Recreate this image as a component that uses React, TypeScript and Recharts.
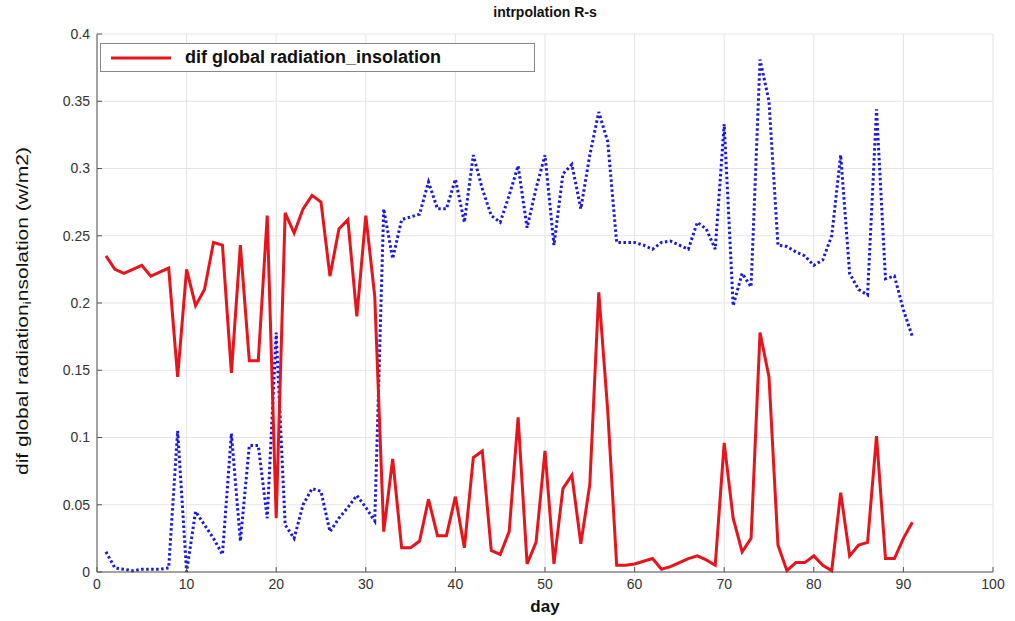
import { LineChart, Line, XAxis, YAxis, CartesianGrid } from "recharts";

// values, day 1 .. 91
const redValues = [
  0.235, 0.225, 0.222, 0.225, 0.228, 0.22, 0.223, 0.226, 0.145, 0.225,
  0.198, 0.21, 0.245, 0.243, 0.148, 0.243, 0.157, 0.157, 0.265, 0.04,
  0.267, 0.252, 0.27, 0.28, 0.275, 0.22, 0.255, 0.262, 0.19, 0.265,
  0.205, 0.03, 0.084, 0.018, 0.018, 0.023, 0.054, 0.027, 0.027, 0.056,
  0.018, 0.085, 0.09, 0.016, 0.013, 0.03, 0.115, 0.006, 0.022, 0.09,
  0.006, 0.062, 0.072, 0.021, 0.065, 0.208, 0.12, 0.005, 0.005, 0.006,
  0.008, 0.01, 0.002, 0.004, 0.007, 0.01, 0.012, 0.009, 0.005, 0.096,
  0.04, 0.015, 0.025, 0.178, 0.145, 0.02, 0.001, 0.007, 0.007, 0.012,
  0.005, 0.001, 0.059, 0.012, 0.02, 0.022, 0.101, 0.01, 0.01, 0.025,
  0.037,
];

const blueValues = [
  0.015, 0.003, 0.002, 0.001, 0.002, 0.002, 0.002, 0.003, 0.105, 0.0,
  0.045, 0.035, 0.025, 0.013, 0.103, 0.023, 0.094, 0.094, 0.04, 0.178,
  0.035, 0.025, 0.05, 0.062, 0.06, 0.03, 0.04, 0.048, 0.057, 0.048,
  0.038, 0.27, 0.233, 0.262, 0.264, 0.266, 0.29, 0.27, 0.27, 0.292,
  0.26, 0.31, 0.285, 0.265, 0.26, 0.28, 0.302, 0.256, 0.285, 0.31,
  0.243, 0.296, 0.303, 0.27, 0.31, 0.342, 0.32, 0.245, 0.245, 0.245,
  0.243, 0.24, 0.245, 0.246, 0.243, 0.24, 0.26, 0.255, 0.24, 0.333,
  0.198, 0.222, 0.212, 0.381, 0.35, 0.243, 0.242, 0.238, 0.235, 0.228,
  0.232, 0.25, 0.31, 0.222, 0.21, 0.206, 0.344, 0.218, 0.22, 0.195,
  0.175,
];

const xTicks = [0, 10, 20, 30, 40, 50, 60, 70, 80, 90, 100];
const yTicks = [0, 0.05, 0.1, 0.15, 0.2, 0.25, 0.3, 0.35, 0.4];

const data = redValues.map((v, i) => ({ day: i + 1, red: v, blue: blueValues[i] }));

const font = "Arial, 'Liberation Sans', Helvetica, sans-serif";

function YLabel() {
  const cx = 22;
  const cy = 311;
  return (
    <text
      x={cx}
      y={cy}
      transform={`rotate(-90 ${cx} ${cy})`}
      textAnchor="middle"
      dominantBaseline="central"
      fontFamily={font}
      fontSize={16}
      fill="#111"
      textLength={328}
      lengthAdjust="spacingAndGlyphs"
    >
      dif global radiation
      <tspan fontSize={11} dy={5}>i</tspan>
      <tspan dy={-5}>nsolation (w/m2)</tspan>
    </text>
  );
}

export default function App() {
  return (
    <div style={{ position: "absolute", left: 0, top: 0, width: 1015, height: 621, background: "#fff" }}>
      <LineChart width={1015} height={621} data={data} margin={{ top: 34, right: 22, left: 0, bottom: 0 }}>
        <CartesianGrid stroke="#e4e4e4" strokeWidth={1} />
        <XAxis
          dataKey="day"
          type="number"
          domain={[0, 100]}
          ticks={xTicks}
          height={49}
          stroke="#555"
          tickSize={-5}
          tickMargin={12}
          tick={{ fontFamily: font, fontSize: 14, fill: "#333" }}
        />
        <XAxis
          xAxisId="top"
          orientation="top"
          type="number"
          domain={[0, 100]}
          ticks={xTicks}
          height={0}
          stroke="#555"
          tickSize={-5}
          tickFormatter={() => ""}
        />
        <YAxis
          type="number"
          domain={[0, 0.4]}
          ticks={yTicks}
          width={97}
          stroke="#555"
          tickSize={-5}
          tickMargin={12}
          tickFormatter={(v: number) => String(+v.toFixed(2))}
          tick={{ fontFamily: font, fontSize: 14, fill: "#333" }}
          label={<YLabel />}
        />
        <YAxis
          yAxisId="right"
          orientation="right"
          type="number"
          domain={[0, 0.4]}
          ticks={yTicks}
          width={0}
          stroke="#555"
          tickSize={-5}
          tickFormatter={() => ""}
        />
        <Line
          type="linear"
          dataKey="blue"
          stroke="#1a1adc"
          strokeWidth={3}
          strokeDasharray="2.5 2.5"
          dot={false}
          isAnimationActive={false}
        />
        <Line
          type="linear"
          dataKey="red"
          stroke="#e8141c"
          strokeWidth={3}
          dot={false}
          isAnimationActive={false}
        />
      </LineChart>
      <div
        style={{
          position: "absolute",
          left: 0,
          width: 1090,
          top: 4,
          textAlign: "center",
          fontFamily: font,
          fontWeight: "bold",
          fontSize: 14,
          color: "#111",
        }}
      >
        intrpolation R-s
      </div>
      <div
        style={{
          position: "absolute",
          left: 0,
          width: 1090,
          top: 597,
          textAlign: "center",
          fontFamily: font,
          fontWeight: "bold",
          fontSize: 17,
          color: "#111",
        }}
      >
        day
      </div>
      <div
        style={{
          position: "absolute",
          left: 100,
          top: 43,
          width: 433,
          height: 27,
          border: "1px solid #888",
          background: "#fff",
          display: "flex",
          alignItems: "center",
          fontFamily: font,
        }}
      >
        <svg width={80} height={20}>
          <line x1={10} y1={10} x2={70} y2={10} stroke="#e8141c" strokeWidth={3} />
        </svg>
        <span style={{ fontWeight: "bold", fontSize: 18, color: "#111", marginLeft: 4 }}>
          dif global radiation_insolation
        </span>
      </div>
    </div>
  );
}
